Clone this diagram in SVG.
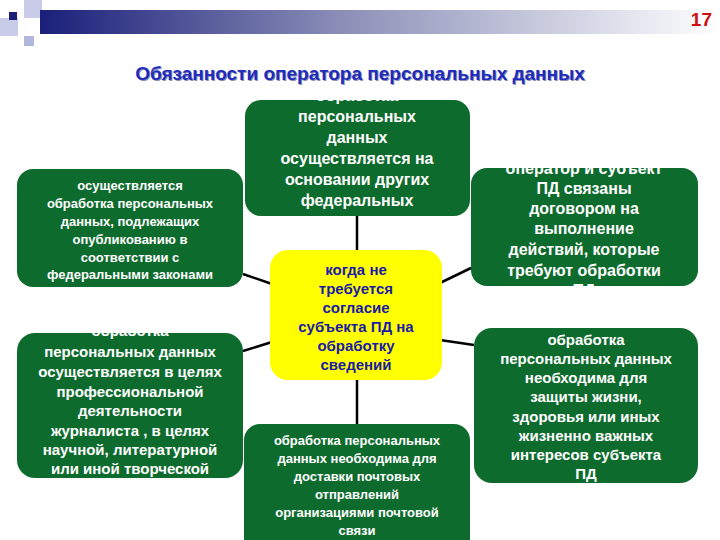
<svg xmlns="http://www.w3.org/2000/svg" width="720" height="540" viewBox="0 0 720 540">
<defs>
<linearGradient id="bar" x1="0" x2="1" y1="0" y2="0"><stop offset="0" stop-color="#1a1f7a"/><stop offset="0.45" stop-color="#8c90b8"/><stop offset="1" stop-color="#ffffff"/></linearGradient>
<clipPath id="c1"><rect x="245" y="100" width="225" height="116" rx="16"/></clipPath>
<clipPath id="c4"><rect x="17" y="333" width="226" height="145" rx="18"/></clipPath>
<clipPath id="c5"><rect x="471" y="168" width="227" height="118" rx="16"/></clipPath>
</defs>
<style>
.g{fill:#0e6b2e}
.t{fill:#fff;font-family:"Liberation Sans",Arial,sans-serif;font-weight:bold;text-anchor:middle}
.y{fill:#1a1aa8;font-family:"Liberation Sans",Arial,sans-serif;font-weight:bold;text-anchor:middle;font-size:15px}
.c{stroke:#000;stroke-width:2.5}
</style>
<rect x="0" y="0" width="720" height="540" fill="#fff"/>
<g id="header">
<rect x="24" y="0" width="18" height="18" fill="#c8cce8"/>
<rect x="0" y="18" width="18" height="18" fill="#c8cce8"/>
<rect x="24" y="36" width="10" height="10" fill="#b0b6dc"/>
<rect x="40" y="10" width="680" height="24" fill="url(#bar)"/>
<rect x="9" y="12" width="8" height="8" fill="#1a1f7a"/>
<text x="712" y="26" font-family="'Liberation Sans',Arial,sans-serif" font-weight="bold" font-size="19" fill="#cc1010" text-anchor="end">17</text>
<text x="361" y="81" font-family="'Liberation Sans',Arial,sans-serif" font-weight="bold" font-size="19" fill="#8a8fb0" text-anchor="middle">Обязанности оператора персональных данных</text>
<text x="360" y="80" font-family="'Liberation Sans',Arial,sans-serif" font-weight="bold" font-size="19" fill="#1f2bbd" text-anchor="middle">Обязанности оператора персональных данных</text>
</g>
<g id="connectors">
<line class="c" x1="357" y1="216" x2="357" y2="252"/>
<line class="c" x1="357" y1="378" x2="357" y2="424"/>
<line class="c" x1="243" y1="274" x2="272" y2="284"/>
<line class="c" x1="243" y1="351" x2="272" y2="342"/>
<line class="c" x1="471" y1="268" x2="440" y2="283"/>
<line class="c" x1="474" y1="345" x2="440" y2="340"/>
</g>
<g id="n1">
<rect class="g" x="245" y="100" width="225" height="116" rx="16"/>
<g clip-path="url(#c1)" class="t" font-size="16">
<text x="357" y="101">обработка</text><text x="357" y="122">персональных</text><text x="357" y="143">данных</text><text x="357" y="164">осуществляется на</text><text x="357" y="185">основании других</text><text x="357" y="206">федеральных</text><text x="357" y="227">законов</text>
</g>
</g>
<g id="n2">
<rect class="g" x="17" y="169" width="226" height="118" rx="16"/>
<g class="t" font-size="13">
<text x="130" y="190">осуществляется</text><text x="130" y="208">обработка персональных</text><text x="130" y="226">данных, подлежащих</text><text x="130" y="244">опубликованию в</text><text x="130" y="262">соответствии с</text><text x="130" y="279">федеральными законами</text>
</g>
</g>
<g id="n3">
<rect class="g" x="17" y="333" width="226" height="145" rx="18"/>
<g clip-path="url(#c4)" class="t" font-size="15">
<text x="130" y="336">обработка</text><text x="130" y="357">персональных данных</text><text x="130" y="377">осуществляется в целях</text><text x="130" y="397">профессиональной</text><text x="130" y="416">деятельности</text><text x="130" y="436">журналиста , в целях</text><text x="130" y="455">научной, литературной</text><text x="130" y="474">или иной творческой</text><text x="130" y="493">деятельности</text>
</g>
</g>
<g id="n4">
<rect x="270" y="250" width="172" height="130" rx="18" fill="#ffff00"/>
<text class="y" x="356" y="275">когда не</text><text class="y" x="356" y="294">требуется</text><text class="y" x="356" y="313">согласие</text><text class="y" x="356" y="332">субъекта ПД на</text><text class="y" x="356" y="351">обработку</text><text class="y" x="356" y="370">сведений</text>
</g>
<g id="n5">
<rect class="g" x="471" y="168" width="227" height="118" rx="16"/>
<g clip-path="url(#c5)" class="t" font-size="16">
<text x="584" y="174">оператор и субъект</text><text x="584" y="194">ПД связаны</text><text x="584" y="214">договором на</text><text x="584" y="234">выполнение</text><text x="584" y="255">действий, которые</text><text x="584" y="276">требуют обработки</text><text x="584" y="296">ПД</text>
</g>
</g>
<g id="n6">
<rect class="g" x="474" y="328" width="224" height="155" rx="18"/>
<g class="t" font-size="15">
<text x="586" y="345">обработка</text><text x="586" y="364">персональных данных</text><text x="586" y="383">необходима для</text><text x="586" y="402">защиты жизни,</text><text x="586" y="422">здоровья или иных</text><text x="586" y="441">жизненно важных</text><text x="586" y="460">интересов субъекта</text><text x="586" y="479">ПД</text>
</g>
</g>
<g id="n7">
<rect class="g" x="244" y="424" width="226" height="130" rx="16"/>
<g class="t" font-size="13">
<text x="357" y="445">обработка персональных</text><text x="357" y="463">данных необходима для</text><text x="357" y="481">доставки почтовых</text><text x="357" y="499">отправлений</text><text x="357" y="517">организациями почтовой</text><text x="357" y="535">связи</text>
</g>
</g>
</svg>
